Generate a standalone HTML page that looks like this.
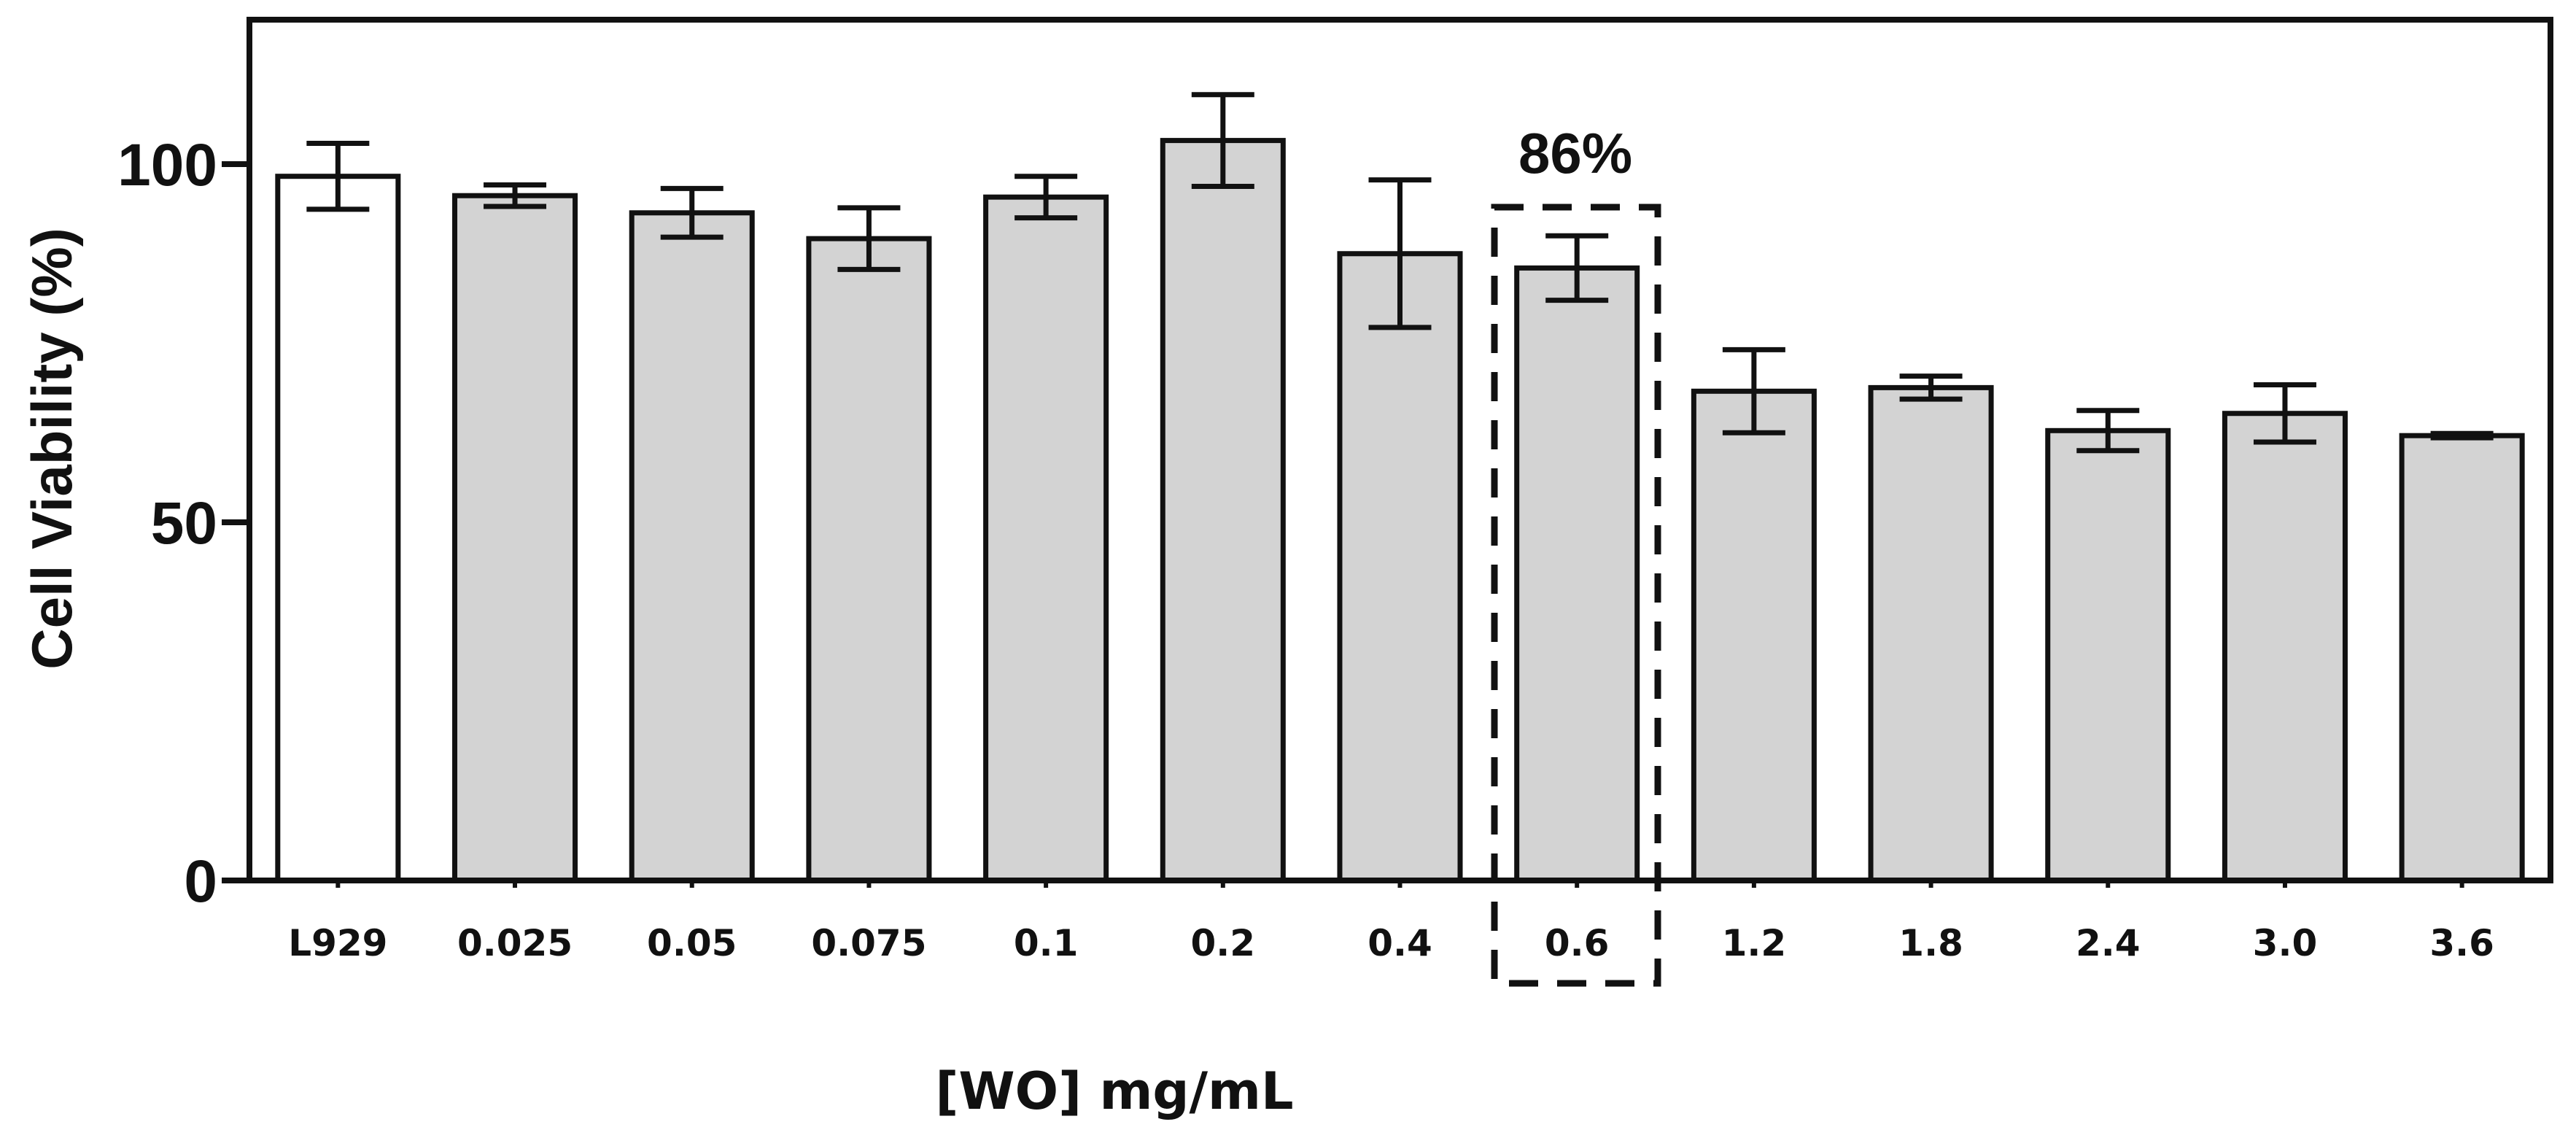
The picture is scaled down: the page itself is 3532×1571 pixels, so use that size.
<!DOCTYPE html>
<html><head><meta charset="utf-8">
<style>
html,body{margin:0;padding:0;background:#fff;}
svg{display:block;}
text{font-family:"Liberation Sans",sans-serif;font-weight:bold;fill:#111;}
</style></head>
<body>
<svg id="chart" width="3532" height="1571" viewBox="0 0 3532 1571" xmlns="http://www.w3.org/2000/svg">
  <rect x="0" y="0" width="3532" height="1571" fill="#fff"/>
  <g id="bars"></g>
  <g id="errs"></g>
  <rect x="342" y="27" width="3155" height="1180" fill="none" stroke="#111" stroke-width="8"/>
  <g id="yaxis"></g>
  <g id="xaxis"></g>
  <text x="-615" y="98" transform="rotate(-90)" text-anchor="middle" font-size="78">Cell Viability (%)</text>
  <text x="1528" y="1520" text-anchor="middle" font-size="70" style="font-family:'DejaVu Sans',sans-serif">[WO] mg/mL</text>
  <rect x="2049" y="284" width="224" height="1064" fill="none" stroke="#111" stroke-width="9" stroke-dasharray="40,26"/>
  <text x="2160" y="237" text-anchor="middle" font-size="78">86%</text>
</svg>
<script>
const categories = ["L929","0.025","0.05","0.075","0.1","0.2","0.4","0.6","1.2","1.8","2.4","3.0","3.6"];
const values = [98.3,95.6,93.2,89.6,95.4,103.3,87.5,85.5,68.3,68.8,62.8,65.2,62.1];
const errors = [4.6,1.5,3.4,4.3,2.9,6.4,10.3,4.5,5.8,1.6,2.8,4.0,0.3];
const fills = ["#ffffff","#d3d3d3","#d3d3d3","#d3d3d3","#d3d3d3","#d3d3d3","#d3d3d3","#d3d3d3","#d3d3d3","#d3d3d3","#d3d3d3","#d3d3d3","#d3d3d3"];
const yTicks = [0,50,100];

const NS = "http://www.w3.org/2000/svg";
const X0 = 342, X1 = 3497, Y0 = 1207, YMAX = 120, PPU = 9.82;
const band = (X1 - X0) / categories.length;
function xc(i){ return X0 + band * (i + 0.5); }
function y(v){ return Y0 - v * PPU; }
function mk(tag, attrs, parent){
  const e = document.createElementNS(NS, tag);
  for (const k in attrs) e.setAttribute(k, attrs[k]);
  parent.appendChild(e);
  return e;
}
const gB = document.getElementById('bars'), gE = document.getElementById('errs');
const gY = document.getElementById('yaxis'), gX = document.getElementById('xaxis');
const bw = 0.68 * band, cap = 86;
categories.forEach((c, i) => {
  const b = mk('rect', {x: xc(i) - bw/2, y: y(values[i]), width: bw, height: Y0 - y(values[i]), fill: fills[i], stroke: '#111', 'stroke-width': 7}, gB);
  
  
  const hi = y(values[i] + errors[i]), lo = y(values[i] - errors[i]);
  const g = mk('g', {stroke: '#111', 'stroke-width': 7}, gE);
  
  
  mk('line', {x1: xc(i), x2: xc(i), y1: hi, y2: lo}, g);
  mk('line', {x1: xc(i) - cap/2, x2: xc(i) + cap/2, y1: hi, y2: hi}, g);
  mk('line', {x1: xc(i) - cap/2, x2: xc(i) + cap/2, y1: lo, y2: lo}, g);
  const t = mk('line', {x1: xc(i), x2: xc(i), y1: Y0, y2: Y0 + 10, stroke: '#111', 'stroke-width': 6}, gX);
  
  
  const l = mk('text', {x: xc(i), y: 1310, 'text-anchor': 'middle', 'font-size': 50, style: "font-family:'DejaVu Sans',sans-serif"}, gX);
  l.textContent = c;
  
  
});
yTicks.forEach(v => {
  const t = mk('line', {x1: X0 - 38, x2: X0, y1: y(v), y2: y(v), stroke: '#111', 'stroke-width': 8}, gY);
  
  
  const l = mk('text', {x: X0 - 44, y: y(v) + 29, 'text-anchor': 'end', 'font-size': 82}, gY);
  l.textContent = v;
  
  
});
</script>
</body></html>
